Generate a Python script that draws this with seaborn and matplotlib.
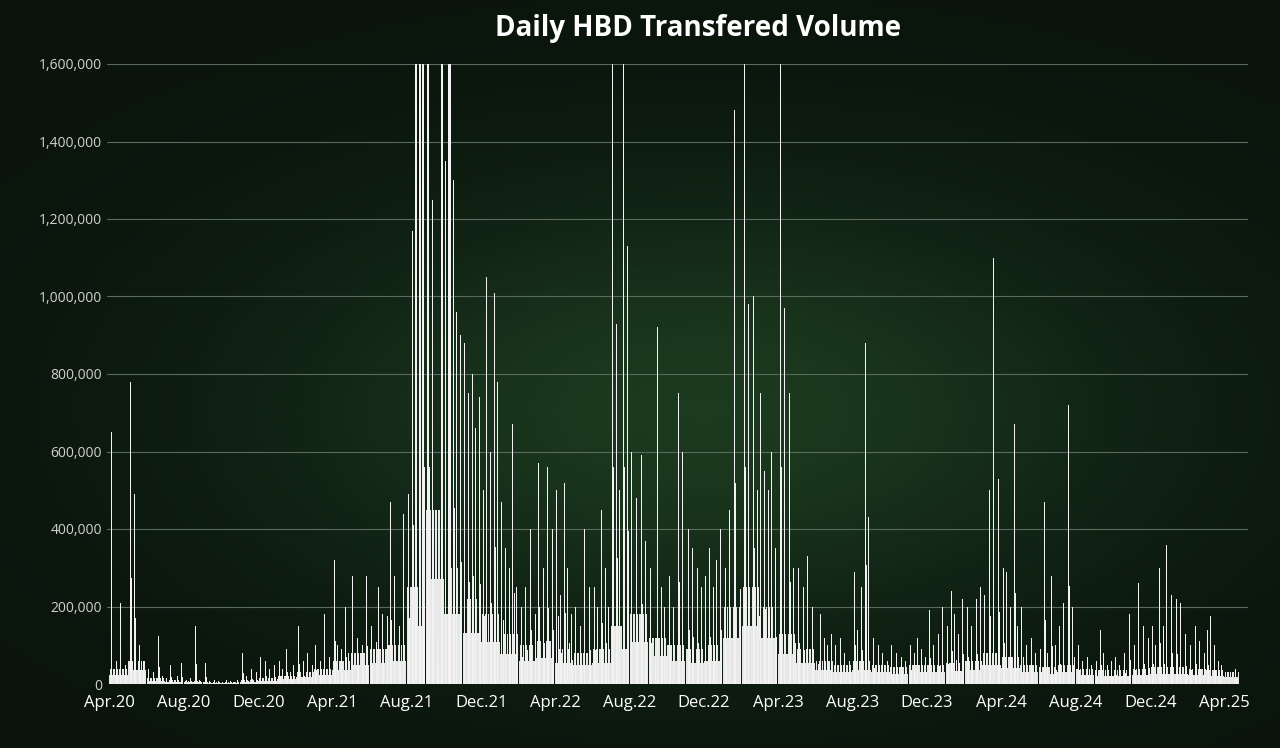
import numpy as np
import pandas as pd
import matplotlib
matplotlib.use("Agg")
import matplotlib.pyplot as plt
import matplotlib.dates as mdates
import matplotlib.ticker as mticker
import seaborn as sns

# Monthly baseline level (thousands), Apr 2020 .. Apr 2025
months = pd.date_range("2020-04-01", "2025-04-01", freq="MS")
baseline_k = [40, 60, 15, 10, 8, 5, 5, 10, 15,
              20, 30, 40, 60, 80, 90, 100, 250, 450, 300, 220, 180,
              130, 100, 110, 90, 80, 90, 150, 180, 120, 100, 90, 100,
              200, 250, 200, 130, 90, 60, 50, 60, 50, 45, 50, 50,
              55, 60, 80, 70, 50, 45, 50, 40, 35, 35, 40, 45,
              45, 40, 35, 30]

# Spike values per month (thousands), roughly weekly
spikes_k = [
    [650, 60, 210, 50], [780, 490, 100, 60], [40, 30, 125, 20], [15, 50, 10, 20, 55],
    [10, 15, 150, 10], [55, 8, 10, 8], [5, 10, 8, 6, 10], [80, 20, 40, 30], [70, 60, 40, 50],
    [60, 40, 90, 30, 50], [150, 60, 80, 50], [100, 60, 180, 70], [320, 100, 90, 200, 80],
    [280, 120, 100, 280], [150, 310, 250, 180, 500], [470, 280, 150, 440],
    [490, 1170, 1600, 1600, 1600], [1600, 1250, 130, 1600], [1350, 1600, 1300, 960, 900],
    [880, 750, 800, 660, 740], [500, 1050, 600, 1010, 780],
    [470, 350, 300, 670, 250], [200, 250, 400, 180], [570, 300, 560, 400],
    [500, 230, 520, 300, 180], [200, 150, 400, 250], [250, 200, 450, 300, 200],
    [1600, 930, 500, 1600, 1130], [600, 480, 590, 370], [300, 250, 920, 250, 200],
    [280, 200, 750, 600], [400, 350, 300, 250], [280, 350, 250, 320, 400],
    [300, 450, 1480, 700], [1600, 980, 1000, 500], [750, 550, 500, 600, 350],
    [1600, 970, 750, 300], [300, 250, 330, 200], [150, 180, 120, 100, 130],
    [100, 120, 80, 60], [290, 140, 250, 880, 430], [120, 100, 80, 60], [100, 80, 70, 60],
    [100, 80, 120, 90, 70], [190, 100, 130, 200],
    [150, 240, 180, 130, 220], [200, 150, 220, 250], [230, 500, 1100, 530],
    [300, 290, 200, 670, 150], [200, 100, 120, 80], [90, 470, 80, 280, 100],
    [150, 210, 720, 200], [100, 60, 70, 50], [60, 140, 80, 50, 60], [70, 50, 80, 180],
    [100, 260, 150, 120], [150, 100, 300, 150, 360],
    [230, 220, 210, 130], [100, 150, 110, 80], [140, 175, 100, 60, 50], [45, 40],
]

sns.set_theme(style="dark")
plt.rcParams['font.family'] = ['Open Sans', 'DejaVu Sans']

fig = plt.figure(figsize=(12.8, 7.48), dpi=100)
fig.patch.set_facecolor("#0c1a0f")
bg = fig.add_axes([0, 0, 1, 1], zorder=-1)
yy, xx = np.mgrid[0:1:200j, 0:1:340j]
glow = np.exp(-(((xx - 0.55) / 0.35) ** 2 + ((yy - 0.55) / 0.3) ** 2))
bg.imshow(glow, cmap=matplotlib.colors.LinearSegmentedColormap.from_list("g", ["#0a140c", "#1c3a20"]),
          aspect="auto", extent=[0, 1, 0, 1])
bg.axis("off")

ax = fig.add_axes([107 / 1280, 1 - 684 / 748, (1248 - 107) / 1280, (684 - 64) / 748])
ax.set_facecolor("none")

starts = list(months)
for i, m in enumerate(starts):
    days = 30 if i < len(starts) - 1 else 25
    b = baseline_k[i] * 1000
    ax.bar(m, b * 0.6, width=days, align="edge", color="#e8e8e8", linewidth=0)
    for k in range(6):
        ax.bar(m + pd.Timedelta(days=k * days / 6 + 1), b, width=days / 12, align="edge",
               color="#e8e8e8", linewidth=0)
    sp = spikes_k[i]
    n = len(sp)
    for j, v in enumerate(sp):
        d = m + pd.Timedelta(days=(j + 0.5) * days / n)
        w = 3.5 if v >= 1600 and m.year == 2021 else 1.6
        ax.bar(d, v * 1000, width=w, color="#f2f2f2", linewidth=0)
        ax.bar(d + pd.Timedelta(days=2), v * 1000 * 0.35, width=1.2, color="#f2f2f2", linewidth=0)

ax.set_ylim(0, 1600000)
ax.set_xlim(pd.Timestamp("2020-03-28"), pd.Timestamp("2025-05-10"))
ax.yaxis.set_major_locator(mticker.MultipleLocator(200000))
ax.yaxis.set_major_formatter(mticker.FuncFormatter(lambda v, p: f"{int(v):,}"))
ax.xaxis.set_major_locator(mdates.MonthLocator(bymonth=[4, 8, 12]))
ax.xaxis.set_major_formatter(mticker.FuncFormatter(lambda v, p: mdates.num2date(v).strftime("%b.%y")))
ax.grid(axis="y", color="#5a6a5c", linewidth=0.8)
ax.grid(axis="x", visible=False)
for s in ax.spines.values():
    s.set_visible(False)
ax.tick_params(axis="y", colors="#d0d0d0", labelsize=10, length=0)
ax.tick_params(axis="x", colors="#ffffff", labelsize=12, length=0, pad=8)
fig.text(0.545, 0.962, "Daily HBD Transfered Volume", color="white", fontsize=20,
         fontweight="bold", ha="center", va="center")
fig.savefig("out.png", dpi=100, facecolor=fig.get_facecolor())
